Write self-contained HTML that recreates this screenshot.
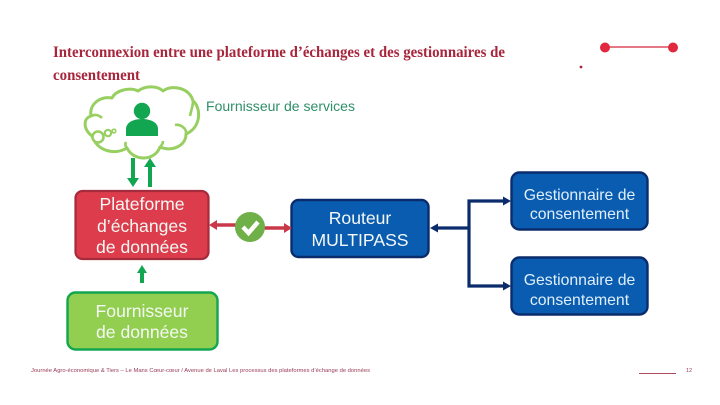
<!DOCTYPE html>
<html><head><meta charset="utf-8">
<style>html,body{margin:0;padding:0;background:#fff}svg{display:block}
.s{font-family:"Liberation Sans",sans-serif}
.t{font-family:"Liberation Serif",serif;font-weight:bold;fill:#a8263c;font-size:15.5px}
.w{fill:#f4f8f4;font-size:17.6px;text-anchor:middle}
.g{fill:#dfeffa;font-size:15.8px;text-anchor:middle}
</style></head><body>
<svg width="720" height="405" viewBox="0 0 720 405" xmlns="http://www.w3.org/2000/svg">
<rect width="720" height="405" fill="#fff"/>
<text class="t" x="53" y="57" textLength="452" lengthAdjust="spacingAndGlyphs">Interconnexion entre une plateforme d’échanges et des gestionnaires de</text>
<text class="t" x="53" y="80" textLength="87" lengthAdjust="spacingAndGlyphs">consentement</text>

<!-- top right -->
<line x1="605" y1="47" x2="673" y2="47" stroke="#d8283c" stroke-width="1.2"/>
<circle cx="605" cy="47.5" r="5" fill="#e0283f"/>
<circle cx="673" cy="47.5" r="5" fill="#e0283f"/>
<circle cx="581" cy="67" r="1.4" fill="#a8263c"/>

<!-- cloud -->
<path d="M92 136 C84 130 82 119 91 116 C89 104 100 96 112 98 C116 90 130 87 138 91 C146 85 158 86 163 91 C172 84 190 88 193 101 C201 107 202 127 186 134 C186 146 172 152 160 147 C155 161 134 162 127 148 C115 155 98 152 92 136 Z" fill="#fff" stroke="#97cf60" stroke-width="3" stroke-linejoin="round"/>
<path d="M91 116 C95 114 99 115 102 118 M127 148 C125 146 125 144 126 142 M160 147 C162 145 163 143 163 141 M186 134 C187 129 181 124 175 125 M193 101 C193 106 191 111 190 116" fill="none" stroke="#97cf60" stroke-width="2.6"/>
<circle cx="98" cy="137" r="5.5" fill="#fff" stroke="#97cf60" stroke-width="2.6"/>
<circle cx="108" cy="133" r="3.2" fill="#fff" stroke="#97cf60" stroke-width="2.2"/>
<circle cx="114" cy="131" r="1.8" fill="#fff" stroke="#97cf60" stroke-width="1.6"/>
<circle cx="142" cy="111" r="8.2" fill="#12a650"/>
<path d="M126 136 V129 C126 122 134 119 142 119 C150 119 158 122 158 129 V136 Z" fill="#12a650"/>

<text class="s" x="206" y="111" font-size="13.5" fill="#2f8f68" textLength="149" lengthAdjust="spacingAndGlyphs">Fournisseur de services</text>

<!-- green arrows -->
<path d="M131 158 H135 V178 H139 L133 187 L127 178 H131 Z" fill="#12a650"/>
<path d="M148 187 H152 V167 H156 L150 158 L144 167 H148 Z" fill="#12a650"/>
<path d="M140 283 H144 V273 H147 L142 265 L137 273 H140 Z" fill="#12a650"/>

<!-- boxes -->
<rect x="75.5" y="191" width="133" height="68" rx="7" fill="#dc3c4b" stroke="#a42c3c" stroke-width="2.2"/>
<text class="s w" x="142" y="210">Plateforme</text>
<text class="s w" x="142" y="232">d’échanges</text>
<text class="s w" x="142" y="253">de données</text>

<rect x="67.5" y="292.5" width="150" height="57" rx="8" fill="#92cf50" stroke="#12a650" stroke-width="2.4"/>
<text class="s w" x="142" y="317">Fournisseur</text>
<text class="s w" x="142" y="338">de données</text>

<rect x="291.5" y="200" width="137" height="57" rx="7" fill="#0a5cb0" stroke="#0a2c6c" stroke-width="2.4"/>
<text class="s w" x="360" y="224">Routeur</text>
<text class="s w" x="360" y="246">MULTIPASS</text>

<rect x="511.5" y="172.5" width="136" height="57" rx="8" fill="#0a5cb0" stroke="#0a2c6c" stroke-width="2.4"/>
<text class="s g" x="579.5" y="200">Gestionnaire de</text>
<text class="s g" x="579.5" y="219">consentement</text>

<rect x="511.5" y="257.5" width="136" height="57" rx="8" fill="#0a5cb0" stroke="#0a2c6c" stroke-width="2.4"/>
<text class="s g" x="579.5" y="285">Gestionnaire de</text>
<text class="s g" x="579.5" y="305">consentement</text>

<!-- red connector -->
<line x1="214" y1="225" x2="240" y2="225" stroke="#c93848" stroke-width="3.4"/>
<path d="M209 225 L217 220 V230 Z" fill="#c93848"/>
<line x1="260" y1="228" x2="285" y2="228" stroke="#c93848" stroke-width="3.4"/>
<path d="M292 228 L284 223 V233 Z" fill="#c93848"/>
<circle cx="250" cy="227" r="15" fill="#6fb048"/>
<path d="M243 227 L248.5 233 L258 222" fill="none" stroke="#fff" stroke-width="4.4"/>

<!-- blue connectors -->
<path d="M469 228 H436 M505 201 H469 V286 H505" fill="none" stroke="#0a2c6c" stroke-width="3.2"/>
<path d="M430 228 L438 223.5 V232.5 Z" fill="#0a2c6c"/>
<path d="M511 201 L503 196.5 V205.5 Z" fill="#0a2c6c"/>
<path d="M511 286 L503 281.5 V290.5 Z" fill="#0a2c6c"/>

<!-- footer -->
<text class="s" x="31" y="372" font-size="5.5" fill="#9a3a55" textLength="339" lengthAdjust="spacingAndGlyphs">Journée Agro-économique &amp; Tiers – Le Mans Cœur-cœur / Avenue de Laval   Les processus des plateformes d’échange de données</text>
<line x1="639" y1="373.5" x2="676" y2="373.5" stroke="#b0485f" stroke-width="1"/>
<text class="s" x="686" y="372" font-size="5.5" fill="#9a3a55">12</text>
</svg>
</body></html>
